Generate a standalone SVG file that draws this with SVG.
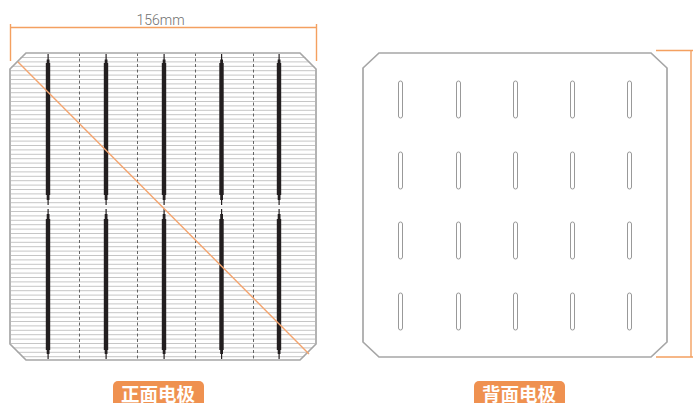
<svg xmlns="http://www.w3.org/2000/svg" width="693" height="403" viewBox="0 0 693 403">
<style>
.o{stroke:#f4a060;stroke-width:1.4;fill:none}
.b{fill:none;stroke:#a6a6a6;stroke-width:1.7}
.h{stroke:#c6c6c6;stroke-width:1}
.d{stroke:#555;stroke-width:.9;stroke-dasharray:3 2.5}
.e{fill:#231f20}
.s{fill:#fff;stroke:#999;stroke-width:1}
.t{font-family:"Noto Sans CJK SC",sans-serif;font-size:18.500px;font-weight:700;fill:#fff;text-anchor:middle}
.p{fill:#ef9150}
</style>
<defs>
<path id="ep" class="e" d="M47.500 54H48.700V59.500H49.500V63H50.200V195H49.500V200H48.700V205H47.500V200H46.700V195H45.800V63H46.700V59.500H47.500Z"/>
<path id="ep2" class="e" d="M47.500 209H48.700V214H49.500V219H50.200V350H49.500V354H48.700V359H47.500V354H46.700V350H45.800V219H46.700V214H47.500Z"/>
<rect id="sl" class="s" x="398.500" y="81" width="4" height="37" rx="2"/>
</defs>
<g id="front">
<path class="h" d="M11 57.500H315M11 61.900H315M11 66.300H315M11 70.700H315M11 75.100H315M11 79.500H315M11 83.900H315M11 88.300H315M11 92.700H315M11 97.100H315M11 101.500H315M11 105.900H315M11 110.300H315M11 114.700H315M11 119.100H315M11 123.500H315M11 127.900H315M11 132.300H315M11 136.700H315M11 141.100H315M11 145.500H315M11 149.900H315M11 154.300H315M11 158.700H315M11 163.100H315M11 167.500H315M11 171.900H315M11 176.300H315M11 180.700H315M11 185.100H315M11 189.500H315M11 193.900H315M11 198.300H315M11 202.700H315M11 207.100H315M11 211.500H315M11 215.900H315M11 220.300H315M11 224.700H315M11 229.100H315M11 233.500H315M11 237.900H315M11 242.300H315M11 246.700H315M11 251.100H315M11 255.500H315M11 259.900H315M11 264.300H315M11 268.700H315M11 273.100H315M11 277.500H315M11 281.900H315M11 286.300H315M11 290.700H315M11 295.100H315M11 299.500H315M11 303.900H315M11 308.300H315M11 312.700H315M11 317.100H315M11 321.500H315M11 325.900H315M11 330.300H315M11 334.700H315M11 339.100H315M11 343.500H315M11 347.900H315M11 352.300H315M11 356.700H315"/>
<path d="M9 52H26L9 69ZM300 52H317V69ZM9 344L26 361H9ZM300 361L317 344V361Z" fill="#fff"/>
<path class="d" d="M79.500 53V360M137.500 53V360M195.500 53V360M253.500 53V360"/>
<use href="#ep"/><use href="#ep" x="58"/><use href="#ep" x="116"/><use href="#ep" x="173.500"/><use href="#ep" x="231"/>
<use href="#ep2"/><use href="#ep2" x="58"/><use href="#ep2" x="116"/><use href="#ep2" x="173.500"/><use href="#ep2" x="231"/>
<path class="b" d="M26 53H300L316 69V344L300 360H26L10 344V69Z"/>
</g>
<g id="back">
<path class="b" d="M379 53H651L667 68V342L651 357H379L363 342V68Z"/>
<use href="#sl"/><use href="#sl" x="58"/><use href="#sl" x="115"/><use href="#sl" x="172"/><use href="#sl" x="229"/>
<use href="#sl" y="71"/><use href="#sl" x="58" y="71"/><use href="#sl" x="115" y="71"/><use href="#sl" x="172" y="71"/><use href="#sl" x="229" y="71"/>
<use href="#sl" y="141"/><use href="#sl" x="58" y="141"/><use href="#sl" x="115" y="141"/><use href="#sl" x="172" y="141"/><use href="#sl" x="229" y="141"/>
<use href="#sl" y="212"/><use href="#sl" x="58" y="212"/><use href="#sl" x="115" y="212"/><use href="#sl" x="172" y="212"/><use href="#sl" x="229" y="212"/>
</g>
<g id="connectors">
<path class="o" d="M10.500 24V61M10.500 27.500H316.500M316.500 24V61M656 50.500H693M691 50.500V357M656 357H693"/>
<path d="M18 62L309 354" stroke="#f4a46e" stroke-width="1.4" fill="none"/>
</g>
<text x="160.500" y="24.500" font-family="Roboto,'Liberation Sans',sans-serif" font-weight="300" font-size="14" fill="#707070" text-anchor="middle">156mm</text>
<g id="label-front"><rect class="p" x="113" y="381" width="91" height="30" rx="5"/><text class="t" x="158" y="400.500">正面电极</text></g>
<g id="label-back"><rect class="p" x="474" y="381" width="91" height="30" rx="5"/><text class="t" x="519" y="400.500">背面电极</text></g>
</svg>
